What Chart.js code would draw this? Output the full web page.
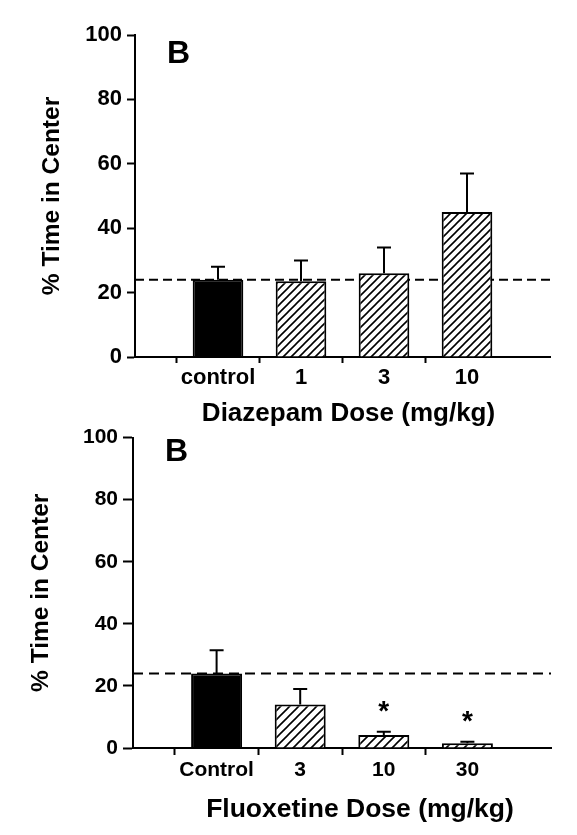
<!DOCTYPE html>
<html><head><meta charset="utf-8">
<script src="https://cdn.jsdelivr.net/npm/chart.js@4.4.1/dist/chart.umd.min.js"></script>
<style>
html,body{margin:0;padding:0;background:#fff;width:577px;height:835px;overflow:hidden;position:relative}
.wrap{position:absolute;left:0}
</style></head><body>
<div class="wrap" style="top:0;width:577px;height:440px"><canvas id="c1" width="577" height="440" style="width:577px;height:440px"></canvas></div>
<div class="wrap" style="top:420px;width:577px;height:415px"><canvas id="c2" width="577" height="415" style="width:577px;height:415px"></canvas></div>
<script>
// ---- data ----
const diazepamCategories = ['control', '1', '3', '10'];
const diazepamMeans = [24, 23.5, 26, 45];
const diazepamSEM = [4, 6.5, 8, 12];

const fluoxetineCategories = ['Control', '3', '10', '30'];
const fluoxetineMeans = [24, 14, 4.2, 1.5];
const fluoxetineSEM = [7.5, 5, 1, 0.5];
const fluoxetineSignificant = [false, false, true, true];

const controlBaseline = 24;
const yTickValues = [0, 20, 40, 60, 80, 100];

// ---- helpers ----
const FONT = "'Liberation Sans', Arial, Helvetica, sans-serif";
Chart.defaults.font.family = FONT;
Chart.defaults.color = '#000';

function hatchPattern(s, lw) {
  const c = document.createElement('canvas');
  c.width = s; c.height = s;
  const g = c.getContext('2d');
  g.fillStyle = '#fff'; g.fillRect(0, 0, s, s);
  g.strokeStyle = '#000'; g.lineWidth = lw; g.lineCap = 'square';
  g.beginPath();
  g.moveTo(0, s); g.lineTo(s, 0);
  g.moveTo(-s / 2, s / 2); g.lineTo(s / 2, -s / 2);
  g.moveTo(s / 2, s * 1.5); g.lineTo(s * 1.5, s / 2);
  g.stroke();
  return g.createPattern(c, 'repeat');
}

const errorBarPlugin = {
  id: 'errorBars',
  afterDatasetsDraw(chart, args, opts) {
    const meta = chart.getDatasetMeta(0);
    const ys = chart.scales.y;
    const ctx = chart.ctx;
    const vals = chart.data.datasets[0].data;
    ctx.save();
    ctx.strokeStyle = '#000';
    ctx.fillStyle = '#000';
    ctx.lineWidth = opts.lineWidth;
    meta.data.forEach((bar, i) => {
      const v = vals[i], e = opts.errors[i];
      if (v == null || e == null) return;
      const yb = ys.getPixelForValue(v);
      const yt = ys.getPixelForValue(v + e);
      ctx.beginPath();
      ctx.moveTo(bar.x, yb); ctx.lineTo(bar.x, yt);
      ctx.moveTo(bar.x - opts.cap / 2, yt); ctx.lineTo(bar.x + opts.cap / 2, yt);
      ctx.stroke();
      if (opts.marks && opts.marks[i]) {
        ctx.font = 'bold 28px ' + FONT;
        ctx.textAlign = 'center';
        ctx.textBaseline = 'alphabetic';
        ctx.fillText('*', bar.x, yt - 12);
      }
    });
    ctx.restore();
  }
};

const panelTextPlugin = {
  id: 'panelText',
  afterDraw(chart, args, opts) {
    const ctx = chart.ctx, a = chart.chartArea;
    ctx.save();
    ctx.fillStyle = '#000';
    // panel letter
    ctx.font = 'bold 32px ' + FONT;
    ctx.textAlign = 'left';
    ctx.textBaseline = 'alphabetic';
    ctx.fillText(opts.label, a.left + opts.labelDx, a.top + opts.labelDy);
    // x axis title
    ctx.font = 'bold ' + opts.titleSize + 'px ' + FONT;
    ctx.textAlign = 'center';
    ctx.textBaseline = 'middle';
    ctx.fillText(opts.xTitle, (a.left + a.right) / 2 + opts.titleDx, a.bottom + opts.titleDy);
    ctx.restore();
  }
};

function makePanel(id, p) {
  const labels = ['', ...p.categories, ''];
  const n = labels.length;
  const values = [null, ...p.means, null];
  const errors = [null, ...p.sem, null];
  const marks = [false, ...(p.marks || p.categories.map(() => false)), false];
  const pat = hatchPattern(p.hatch, 1.6);
  const fills = values.map((v, i) => (i === 1 ? '#000' : pat));
  const bold = (size) => ({ family: FONT, size: size, weight: 'bold' });

  return new Chart(document.getElementById(id), {
    data: {
      labels: labels,
      datasets: [
        {
          type: 'bar', data: values, order: 1,
          backgroundColor: fills, borderColor: '#000', borderWidth: 2,
          barPercentage: 0.61, categoryPercentage: 1
        },
        {
          type: 'line', data: labels.map(() => controlBaseline), order: 2,
          borderColor: '#000', borderWidth: 2, borderDash: p.dash,
          pointRadius: 0, fill: false
        }
      ]
    },
    options: {
      responsive: false, animation: false, events: [],
      layout: { padding: p.padding },
      plugins: {
        legend: { display: false }, tooltip: { enabled: false },
        errorBars: { errors: errors, marks: marks, cap: 14, lineWidth: 2 },
        panelText: {
          label: 'B', labelDx: 32, labelDy: p.labelDy,
          xTitle: p.xTitle, titleSize: p.xTitleSize, titleDx: p.xTitleDx, titleDy: p.xTitleDy
        }
      },
      scales: {
        x: {
          type: 'category', offset: false,
          ticks: { color: '#000', font: bold(p.xTickSize), padding: p.xTickPad, maxRotation: 0, autoSkip: false },
          grid: {
            drawOnChartArea: false, drawTicks: true, tickLength: p.xTickLen, tickWidth: 2,
            tickColor: (c) => (c.index === 0 || c.index === n - 1) ? 'rgba(0,0,0,0)' : '#000'
          },
          border: { display: true, color: '#000', width: 2 },
          title: { display: false },
          afterFit: (a) => { a.height = p.xAxisHeight; }
        },
        y: {
          min: 0, max: 100,
          afterBuildTicks: (a) => { a.ticks = yTickValues.map(v => ({ value: v })); },
          ticks: { color: '#000', font: bold(p.yTickSize), padding: p.yTickPad },
          grid: { drawOnChartArea: false, drawTicks: true, tickLength: p.yTickLen, tickWidth: 2, tickColor: '#000' },
          border: { display: true, color: '#000', width: 2 },
          title: { display: true, text: '% Time in Center', color: '#000', font: bold(24.5), padding: { top: p.yTitlePad, bottom: 0 } },
          afterFit: (a) => { a.width = p.yAxisWidth; }
        }
      }
    },
    plugins: [errorBarPlugin, panelTextPlugin]
  });
}

makePanel('c1', {
  categories: diazepamCategories, means: diazepamMeans, sem: diazepamSEM,
  xTitle: 'Diazepam Dose (mg/kg)', xTitleSize: 26, xTitleDx: 6, xTitleDy: 57,
  hatch: 8, dash: [9, 5],
  padding: { left: 0, right: 27, top: 35, bottom: 11 },
  xAxisHeight: 72, xTickSize: 22, xTickPad: 2, xTickLen: 6,
  yAxisWidth: 135, yTickSize: 22, yTickPad: 5, yTickLen: 8, yTitlePad: 38,
  labelDy: 28
});

makePanel('c2', {
  categories: fluoxetineCategories, means: fluoxetineMeans, sem: fluoxetineSEM,
  marks: fluoxetineSignificant,
  xTitle: 'Fluoxetine Dose (mg/kg)', xTitleSize: 26.5, xTitleDx: 18, xTitleDy: 62,
  hatch: 9, dash: [10, 6],
  padding: { left: 0, right: 26, top: 15, bottom: 10 },
  xAxisHeight: 77, xTickSize: 21, xTickPad: 3, xTickLen: 7,
  yAxisWidth: 133, yTickSize: 21, yTickPad: 5, yTickLen: 10, yTitlePad: 27,
  labelDy: 23
});
</script>
</body></html>
